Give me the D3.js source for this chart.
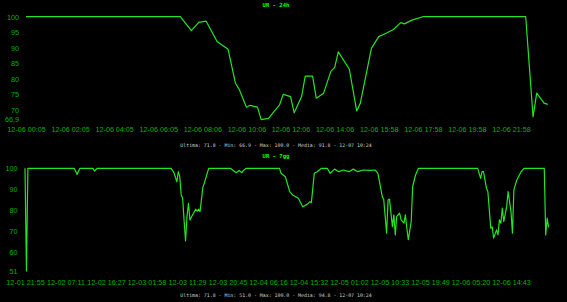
<!DOCTYPE html>
<html><head><meta charset="utf-8">
<script src="https://cdn.jsdelivr.net/npm/d3@7"></script>
<style>html,body{margin:0;padding:0;background:#000;overflow:hidden}svg{display:block}</style>
</head><body>
<script>
// ---- 24h chart data (index = sample number, 10-minute steps) ----
const idx24 = [0,42,45,47,49,52,55,57,58,60,61,63,64,66,69,70,72,73,75,76,78,79,81,83,84,85,88,90,91,94,96,98,100,102,103,105,108,136,138,139,141,142];
const ur24  = [100,100,95.5,98.2,98.6,92,89.5,78.6,76.7,70.9,71.5,70.9,66.9,67.3,71.6,75.0,74.3,69.1,74.3,80.9,80.9,73.8,75.4,82.5,83.6,88.7,83.1,69.7,72.2,89.8,93.6,94.7,95.9,98.1,97.7,98.9,100,100,67.8,75.4,72.2,71.8];
const xTickIdx24 = [0,12,24,36,48,60,72,84,96,108,120,132];
const xLabels24 = ["12-06 00:05","12-06 02:05","12-06 04:05","12-06 06:05","12-06 08:06","12-06 10:06","12-06 12:06","12-06 14:06","12-06 15:58","12-06 17:58","12-06 19:58","12-06 21:58"];
const yTicks24 = [100,95,90,85,80,75,70,66.9];
const title24 = "UR - 24h";
const footer24 = "Ultima: 71.8 - Min: 66.9 - Max: 100.0 - Media: 91.8 - 12-07 10:24";

// ---- 7 day chart data ----
const idx7 = [0,1,2,34,36,38,47,48,50,101,103,105,106,107,108,109,110,111,112,113,114,116,118,119,120,121,123,124,127,142,146,148,150,151,153,176,177,180,181,183,185,189,192,195,197,198,200,202,205,209,211,214,217,220,224,227,230,234,239,242,244,247,248,250,251,252,254,255,256,257,259,260,262,263,264,265,267,268,270,272,313,315,316,317,319,320,322,323,324,326,327,328,329,330,331,333,334,336,337,338,340,343,345,359,360,361,362];
const ur7  = [100,51,100,100,97.1,100,100,98.7,100,100,97.9,93.6,98.4,96,87.3,85.7,75,65.4,77,83.3,75.4,78,80.5,79.5,80.5,79.3,91,93,100,100,97.9,98.9,97.9,99,100,100,97.6,96,93.6,88.9,87.3,85.7,81.7,82.8,84.1,83.6,97.6,98.4,100,100,97.6,99.6,98.4,99.2,98.4,99.6,98.4,99.2,99,99.2,97.6,86.5,85.2,69,84.9,85.3,72.2,77.8,68.2,77,78.6,75.4,73.8,77.8,71.4,65.9,74.6,91.2,96.8,100,100,95.2,98.4,98.4,90.5,88.9,71.4,72,66.7,70.6,68.2,75.4,73.8,81,74.6,81.7,88.9,79.3,69,89.7,94.4,98.4,100,100,68.2,76.2,71.8];
const xTickIdx7 = [0,28,56,84,112,140,168,196,224,252,280,308,336];
const xLabels7 = ["12-01 21:55","12-02 07:11","12-02 16:27","12-03 01:58","12-03 11:29","12-03 20:45","12-04 06:16","12-04 15:32","12-05 01:02","12-05 10:33","12-05 19:49","12-06 05:20","12-06 14:43"];
const yTicks7 = [100,90,80,70,60,51];
const title7 = "UR - 7gg";
const footer7 = "Ultima: 71.8 - Min: 51.0 - Max: 100.0 - Media: 94.8 - 12-07 10:24";

const W = 567, H = 302;
const lineColor = "#22e622", labelColor = "#00b400", titleColor = "#00ff00", footColor = "#cfcfcf";

const svg = d3.select("body").append("svg").attr("width", W).attr("height", H)
  .style("background", "#000");

function panel(cfg) {
  const x = d3.scaleLinear().domain([0, cfg.lastTick]).range([cfg.x0, cfg.x1]);
  const y = d3.scaleLinear().domain([cfg.yMin, 100]).range([cfg.yBottom, cfg.yTop]);
  const g = svg.append("g");

  g.append("text").attr("x", 276).attr("y", cfg.titleY).attr("text-anchor", "middle")
    .attr("fill", titleColor).style("font", "bold 5.6px 'DejaVu Sans Mono', monospace").text(cfg.title);

  const yAxis = d3.axisLeft(y).tickValues(cfg.yTicks).tickSize(0).tickPadding(3)
    .tickFormat(d => String(d).replace(".", ","));
  const ya = g.append("g").attr("transform", `translate(${cfg.yAxisX},0)`).call(yAxis);
  ya.select(".domain").remove();
  ya.selectAll("text").attr("fill", labelColor).style("font", "7.2px 'Liberation Sans', Arial, sans-serif");

  const xAxis = d3.axisBottom(x).tickValues(cfg.xTicks).tickSize(0).tickPadding(2)
    .tickFormat((d, i) => cfg.xLabels[i]);
  const xa = g.append("g").attr("transform", `translate(0,${cfg.xAxisY})`).call(xAxis);
  xa.select(".domain").remove();
  xa.selectAll("text").attr("fill", labelColor).style("font", "7.2px 'Liberation Sans', Arial, sans-serif");

  const line = d3.line().x(d => x(d[0])).y(d => y(d[1]));
  g.append("path").datum(d3.zip(cfg.idx, cfg.vals)).attr("d", line)
    .attr("fill", "none").attr("stroke", lineColor).attr("stroke-width", 1.2)
    .attr("stroke-linejoin", "round");

  g.append("text").attr("x", 276).attr("y", cfg.footY).attr("text-anchor", "middle")
    .attr("fill", footColor).style("font", "4.9px 'DejaVu Sans Mono', monospace").text(cfg.footer);
}

panel({title: title24, titleY: 7, idx: idx24, vals: ur24, lastTick: 132, x0: 26, x1: 511,
  yMin: 66.9, yTop: 16.7, yBottom: 119.6, yTicks: yTicks24, yAxisX: 22,
  xTicks: xTickIdx24, xLabels: xLabels24, xAxisY: 125, footer: footer24, footY: 146.5});

panel({title: title7, titleY: 158, idx: idx7, vals: ur7, lastTick: 336, x0: 25, x1: 511,
  yMin: 51, yTop: 168.3, yBottom: 271, yTicks: yTicks7, yAxisX: 20.5,
  xTicks: xTickIdx7, xLabels: xLabels7, xAxisY: 278, footer: footer7, footY: 297});
</script>
</body></html>
